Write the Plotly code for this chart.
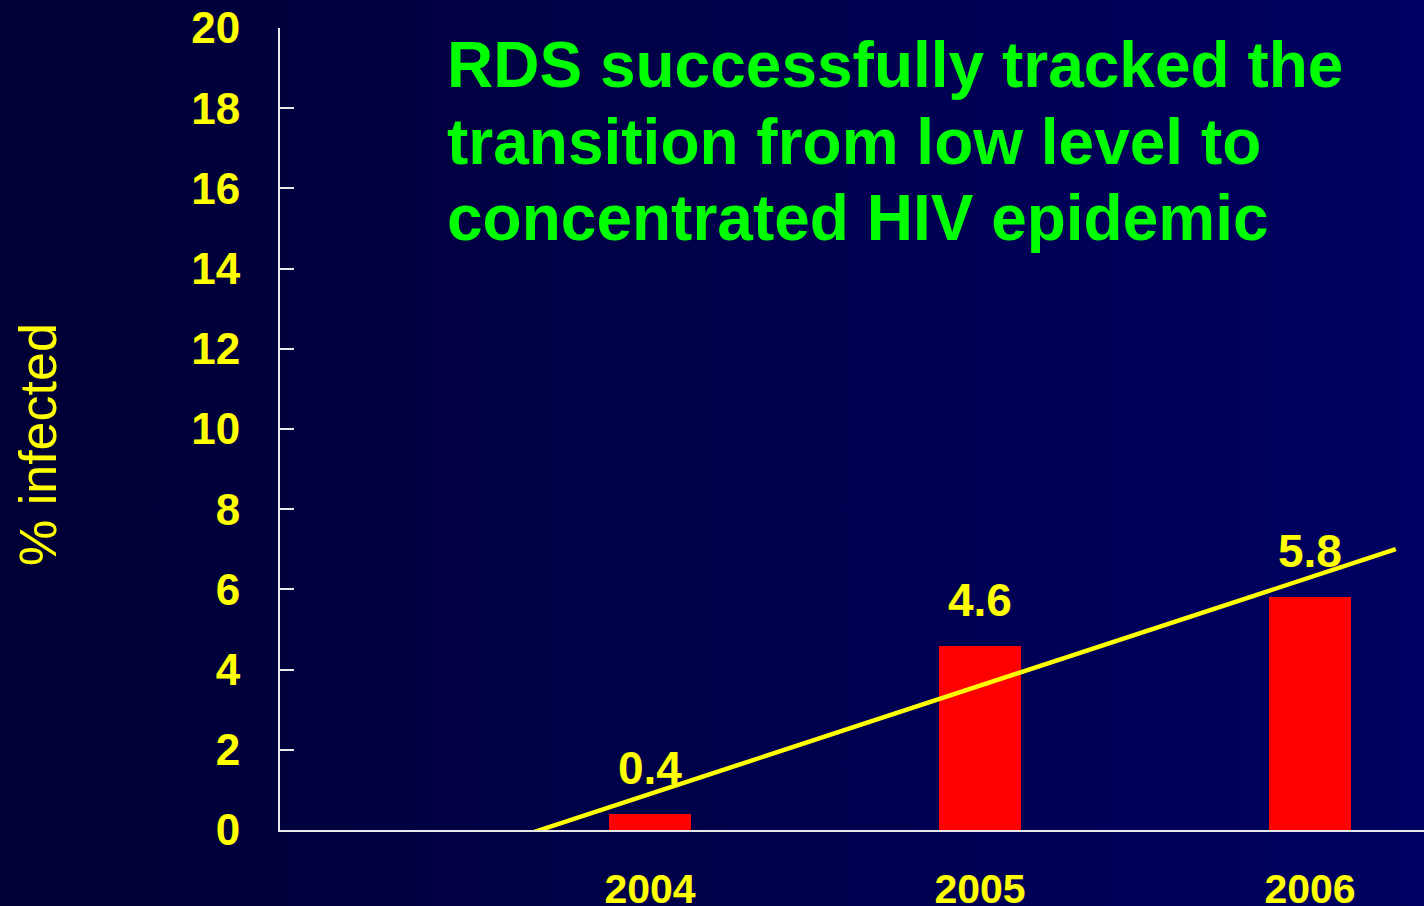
import base64
import numpy as np
import plotly.graph_objects as go

# ---- data ----
years = [2004, 2005, 2006]
infected_pct = [0.4, 4.6, 5.8]
bar_labels = ["0.4", "4.6", "5.8"]
y_ticks = [0, 2, 4, 6, 8, 10, 12, 14, 16, 18, 20]
trend_extent = [2003.65, 2006.26]   # trendline backward / forward forecast extent
title_lines = ["RDS successfully tracked the",
               "transition from low level to",
               "concentrated HIV epidemic"]
y_title = "% infected"

# ---- layout constants ----
W, H = 1424, 906
ML, MR, MT, MB = 280, 0, 28, 76
PW, PH = W - ML - MR, H - MT - MB
FONT = "Liberation Sans, Arial, Helvetica, sans-serif"
YELLOW = "#FFFF00"

# linear trendline fitted to the data
slope, intercept = np.polyfit(years, infected_pct, 1)
trend_x = np.array(trend_extent)
trend_y = slope * trend_x + intercept

fig = go.Figure()
fig.add_trace(go.Bar(x=years, y=infected_pct, width=0.25,
                     marker=dict(color="#FF0000", line=dict(width=0)),
                     showlegend=False, hoverinfo="skip"))
fig.add_trace(go.Scatter(x=trend_x, y=trend_y, mode="lines",
                         line=dict(color=YELLOW, width=4.5),
                         showlegend=False, hoverinfo="skip"))

annotations = []
for x, v, t in zip(years, infected_pct, bar_labels):
    annotations.append(dict(x=x, y=v, xref="x", yref="y", text=t, showarrow=False,
                            yanchor="bottom", xanchor="center", yshift=18,
                            font=dict(family=FONT, size=46, color=YELLOW, weight="bold")))

# title lines (separate annotations to control line spacing)
baselines = [87, 164, 240]
fs_title = 64
for line, b in zip(title_lines, baselines):
    center_px = b - 0.3465 * fs_title
    annotations.append(dict(x=(445 - ML) / PW, y=(MT + PH - center_px) / PH,
                            xref="paper", yref="paper", text=line, showarrow=False,
                            xanchor="left", yanchor="middle",
                            font=dict(family=FONT, size=fs_title, color="#00FF00", weight="bold")))

# y-axis title
annotations.append(dict(x=(38 - ML) / PW, y=(MT + PH - 445) / PH, xref="paper", yref="paper",
                        text=y_title, showarrow=False, textangle=-90,
                        xanchor="center", yanchor="middle",
                        font=dict(family=FONT, size=52, color=YELLOW)))

# background gradient as an SVG image
svg = ('<svg xmlns="http://www.w3.org/2000/svg" width="1424" height="906" preserveAspectRatio="none">'
       '<defs><linearGradient id="g" x1="0" y1="0" x2="1" y2="0">'
       '<stop offset="0" stop-color="#000034"/><stop offset="1" stop-color="#000062"/>'
       '</linearGradient></defs><rect width="1424" height="906" fill="url(#g)"/></svg>')
src = "data:image/svg+xml;base64," + base64.b64encode(svg.encode()).decode()

fig.update_layout(
    width=W, height=H, autosize=False,
    margin=dict(l=ML, r=MR, t=MT, b=MB, pad=0, autoexpand=False),
    paper_bgcolor="#00004A", plot_bgcolor="rgba(0,0,0,0)",
    images=[dict(source=src, xref="paper", yref="paper",
                 x=-ML / PW, y=1 + MT / PH, sizex=W / PW, sizey=H / PH,
                 xanchor="left", yanchor="top", sizing="stretch", layer="below")],
    annotations=annotations,
    bargap=0,
    xaxis=dict(range=[2004 - (650 - ML) / 330, 2004 + (W - 650) / 330],
               tickvals=years, ticktext=[str(y) for y in years], automargin=False,
               showgrid=False, zeroline=False, showline=True, linecolor="#E8E8E8", linewidth=2,
               ticks="", ticklabelstandoff=22,
               tickfont=dict(family=FONT, size=41, color=YELLOW, weight="bold")),
    yaxis=dict(range=[0, 20], tickvals=y_ticks, automargin=False,
               showgrid=False, zeroline=False, showline=True, linecolor="#E8E8E8", linewidth=2,
               ticks="inside", ticklen=14, tickwidth=2, tickcolor="#E8E8E8",
               ticklabelstandoff=29,
               tickfont=dict(family=FONT, size=44, color=YELLOW, weight="bold")),
)

fig.write_html("out.html", config={"responsive": False, "displayModeBar": False},
               post_script="document.body.style.margin='0';document.body.style.overflow='hidden';")
